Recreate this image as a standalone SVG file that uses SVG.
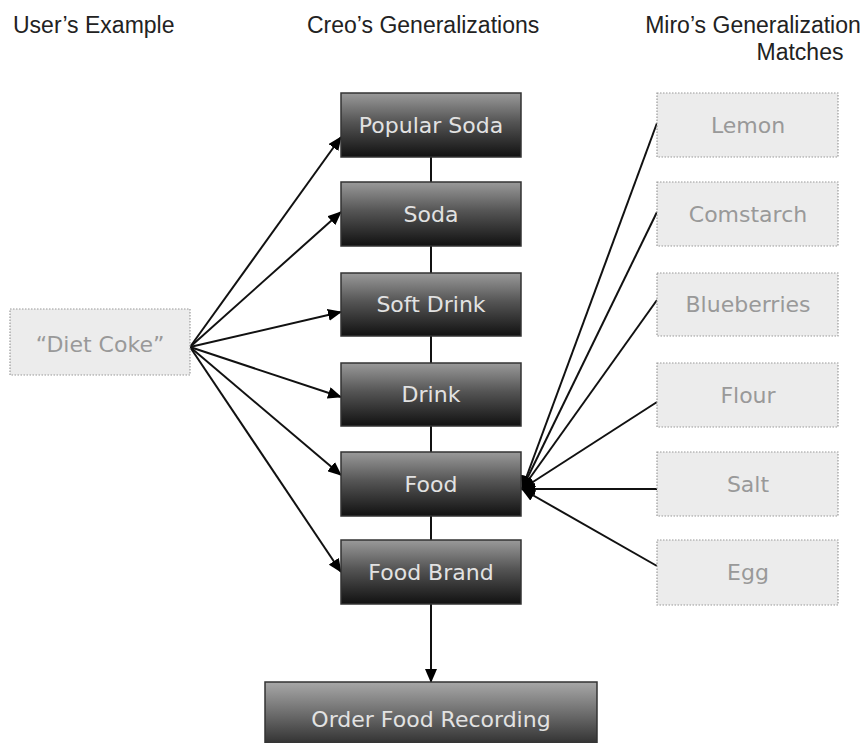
<svg xmlns="http://www.w3.org/2000/svg" width="862" height="743" viewBox="0 0 862 743">
<defs>
<linearGradient id="dark" x1="0" y1="0" x2="0" y2="1">
<stop offset="0" stop-color="#9a9a9a"/>
<stop offset="0.45" stop-color="#555"/>
<stop offset="1" stop-color="#111"/>
</linearGradient>
<linearGradient id="dark2" x1="0" y1="0" x2="0" y2="1">
<stop offset="0" stop-color="#a8a8a8"/>
<stop offset="0.5" stop-color="#666"/>
<stop offset="1" stop-color="#222"/>
</linearGradient>
<marker id="arr" markerUnits="userSpaceOnUse" markerWidth="14" markerHeight="12" refX="13" refY="6" orient="auto">
<path d="M0,0 L14,6 L0,12 z" fill="#000"/>
</marker>
</defs>
<style>
.hdr{font-family:"Liberation Sans",Arial,sans-serif;font-size:23px;fill:#222}
.dk rect{fill:url(#dark);stroke:#333;stroke-width:1.5}
.dk text{font-family:"DejaVu Sans",Verdana,sans-serif;font-size:22px;fill:#e2e2e2;text-anchor:middle}
.lt rect{fill:#ececec;stroke:#999;stroke-width:1.2;stroke-dasharray:1.5 1.5}
.lt text{font-family:"DejaVu Sans",Verdana,sans-serif;font-size:22px;fill:#999;text-anchor:middle}
.cn line{stroke:#111;stroke-width:2}
.ar{marker-end:url(#arr)}
</style>
<rect width="862" height="743" fill="#fff"/>
<g id="headers">
<text class="hdr" x="13" y="33">User’s Example</text>
<text class="hdr" x="307" y="33">Creo’s Generalizations</text>
<text class="hdr" x="753" y="33" text-anchor="middle">Miro’s Generalization</text>
<text class="hdr" x="800" y="60" text-anchor="middle">Matches</text>
</g>
<g id="connectors" class="cn">
<line x1="431" y1="157" x2="431" y2="182"/>
<line x1="431" y1="246" x2="431" y2="273"/>
<line x1="431" y1="336" x2="431" y2="363"/>
<line x1="431" y1="426" x2="431" y2="452"/>
<line x1="431" y1="516" x2="431" y2="540"/>
<line class="ar" x1="431" y1="604" x2="431" y2="682"/>
<line class="ar" x1="190" y1="347" x2="341" y2="137"/>
<line class="ar" x1="190" y1="347" x2="341" y2="212"/>
<line class="ar" x1="190" y1="347" x2="341" y2="312"/>
<line class="ar" x1="190" y1="347" x2="341" y2="397"/>
<line class="ar" x1="190" y1="347" x2="341" y2="475"/>
<line class="ar" x1="190" y1="347" x2="341" y2="572"/>
<line class="ar" x1="657" y1="123" x2="522" y2="489"/>
<line class="ar" x1="657" y1="212" x2="522" y2="489"/>
<line class="ar" x1="657" y1="300" x2="522" y2="489"/>
<line class="ar" x1="657" y1="402" x2="522" y2="489"/>
<line class="ar" x1="657" y1="489" x2="522" y2="489"/>
<line class="ar" x1="657" y1="566" x2="522" y2="489"/>
</g>
<g id="diet-coke" class="lt"><rect x="10" y="309" width="180" height="66"/><text x="100" y="352">“Diet Coke”</text></g>
<g id="popular-soda" class="dk"><rect x="341" y="93" width="180" height="64"/><text x="431" y="133">Popular Soda</text></g>
<g id="soda" class="dk"><rect x="341" y="182" width="180" height="64"/><text x="431" y="222">Soda</text></g>
<g id="soft-drink" class="dk"><rect x="341" y="273" width="180" height="63"/><text x="431" y="312">Soft Drink</text></g>
<g id="drink" class="dk"><rect x="341" y="363" width="180" height="63"/><text x="431" y="402">Drink</text></g>
<g id="food" class="dk"><rect x="341" y="452" width="180" height="64"/><text x="431" y="492">Food</text></g>
<g id="food-brand" class="dk"><rect x="341" y="540" width="180" height="64"/><text x="431" y="580">Food Brand</text></g>
<g id="order-food-recording" class="dk"><rect x="265" y="682" width="332" height="70" style="fill:url(#dark2)"/><text x="431" y="727">Order Food Recording</text></g>
<g id="lemon" class="lt"><rect x="657" y="93" width="181" height="64"/><text x="748" y="133">Lemon</text></g>
<g id="cornstarch" class="lt"><rect x="657" y="182" width="181" height="64"/><text x="748" y="222">Comstarch</text></g>
<g id="blueberries" class="lt"><rect x="657" y="273" width="181" height="63"/><text x="748" y="312">Blueberries</text></g>
<g id="flour" class="lt"><rect x="657" y="363" width="181" height="64"/><text x="748" y="403">Flour</text></g>
<g id="salt" class="lt"><rect x="657" y="452" width="181" height="64"/><text x="748" y="492">Salt</text></g>
<g id="egg" class="lt"><rect x="657" y="540" width="181" height="65"/><text x="748" y="580">Egg</text></g>
</svg>
